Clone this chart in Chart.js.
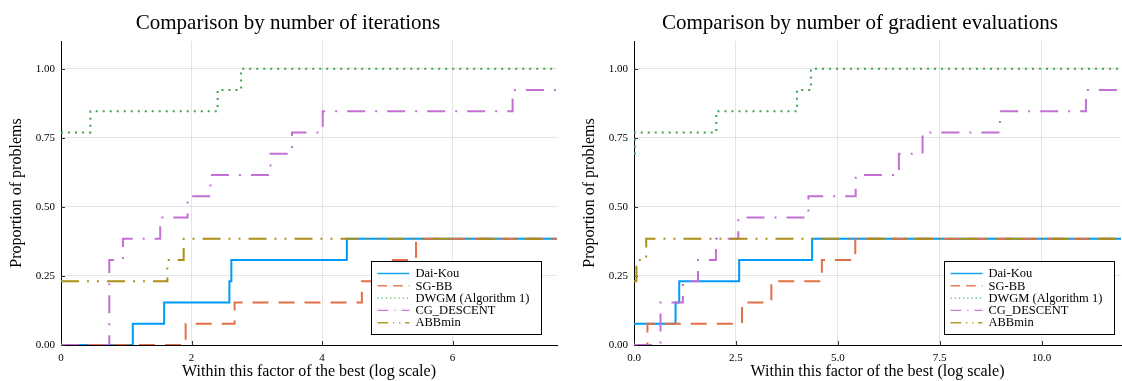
<!DOCTYPE html>
<html>
<head>
<meta charset="utf-8">
<script src="https://cdn.jsdelivr.net/npm/chart.js@4/dist/chart.umd.min.js"></script>
<style>
  body { margin: 0; background: #fff; }
  #wrap { position: relative; width: 1122px; height: 381px; }
  canvas { position: absolute; top: 0; }
</style>
</head>
<body>
<div id="wrap">
  <canvas id="iters" width="561" height="381" style="left:0"></canvas>
  <canvas id="grads" width="561" height="381" style="left:561px"></canvas>
</div>
<script>
// 13 test problems, so every step is 1/13
const NPROB = 13
const yTicks = [0, 0.25, 0.5, 0.75, 1.0]

// left panel: number of iterations
const iterXMax = 7.6
const iterXTicks = [0, 2, 4, 6]
const iterDaiKouX = [0, 1.10, 1.58, 2.58, 2.61, 4.38, 7.6]
const iterDaiKouN = [0, 1, 2, 3, 4, 5, 5]
const iterSgbbX = [0, 1.91, 2.66, 4.61, 4.94, 5.44, 7.6]
const iterSgbbN = [0, 1, 2, 3, 4, 5, 5]
const iterDwgmX = [0, 0.45, 2.40, 2.76, 7.6]
const iterDwgmN = [10, 11, 12, 13, 13]
const iterCgX = [0, 0.74, 0.95, 1.52, 1.94, 2.29, 3.21, 3.54, 4.01, 6.92, 7.6]
const iterCgN = [0, 4, 5, 6, 7, 8, 9, 10, 11, 12, 12]
const iterAbbX = [0, 1.63, 1.88, 7.6]
const iterAbbN = [3, 4, 5, 5]

// right panel: number of gradient evaluations
const gradXMax = 11.95
const gradXTicks = [0, 2.5, 5, 7.5, 10]
const gradDaiKouX = [0, 1.02, 1.11, 2.58, 4.37, 11.95]
const gradDaiKouN = [1, 2, 3, 4, 5, 5]
const gradSgbbX = [0, 0.33, 2.65, 3.37, 4.61, 5.43, 11.95]
const gradSgbbN = [0, 1, 2, 3, 4, 5, 5]
const gradDwgmX = [0, 0.02, 2.02, 4.00, 4.34, 11.95]
const gradDwgmN = [9, 10, 11, 12, 13, 13]
const gradCgX = [0, 0.65, 1.20, 1.57, 2.01, 2.56, 4.28, 5.44, 6.50, 7.08, 8.98, 11.09, 11.95]
const gradCgN = [0, 2, 3, 4, 5, 6, 7, 8, 9, 10, 11, 12, 12]
const gradAbbX = [0, 0.06, 0.30, 11.95]
const gradAbbN = [3, 4, 5, 5]

const solverNames = ['Dai-Kou', 'SG-BB', 'DWGM (Algorithm 1)', 'CG_DESCENT', 'ABBmin']

// look of each solver, same order as solverNames
const solverStyles = [
  { color: '#009AFA', dash: [] },
  { color: '#E26F46', dash: [16, 10] },
  { color: '#3EA44E', dash: [2, 5] },
  { color: '#C271D2', dash: [18, 10, 2, 10] },
  { color: '#AC8E18', dash: [18, 8, 2, 8, 2, 8] }
]

const SERIF = '"Liberation Serif", "DejaVu Serif", serif'

function points(xs, ns) {
  return xs.map((x, i) => ({ x: x, y: ns[i] / NPROB }))
}

// title drawn at a fixed centre, like the original layout
const titlePlugin = {
  id: 'panelTitle',
  afterDraw(chart, args, opts) {
    const ctx = chart.ctx
    ctx.save()
    ctx.font = '21px ' + SERIF
    ctx.fillStyle = '#000'
    ctx.textAlign = 'center'
    ctx.textBaseline = 'middle'
    ctx.fillText(opts.text, opts.cx, 23)
    ctx.restore()
  }
}

// small inward tick marks on both axes
const innerTicks = {
  id: 'innerTicks',
  beforeDatasetsDraw(chart) {
    const { ctx, chartArea, scales } = chart
    ctx.save()
    ctx.strokeStyle = '#333'
    ctx.lineWidth = 1
    ctx.beginPath()
    scales.x.ticks.forEach(t => {
      const px = Math.round(scales.x.getPixelForValue(t.value)) + 0.5
      ctx.moveTo(px, chartArea.bottom)
      ctx.lineTo(px, chartArea.bottom - 4)
    })
    scales.y.ticks.forEach(t => {
      const py = Math.round(scales.y.getPixelForValue(t.value)) + 0.5
      ctx.moveTo(chartArea.left, py)
      ctx.lineTo(chartArea.left + 4, py)
    })
    ctx.stroke()
    ctx.restore()
  }
}

// boxed legend with line samples, bottom right inside the plot
const boxLegend = {
  id: 'boxLegend',
  afterDraw(chart, args, opts) {
    const { ctx, chartArea } = chart
    const w = 170, h = 73
    const left = Math.round(chartArea.right - opts.marginRight - w) + 0.5
    const top = Math.round(chartArea.bottom - 11 - h) + 0.5
    ctx.save()
    ctx.fillStyle = '#fff'
    ctx.fillRect(left, top, w, h)
    ctx.strokeStyle = '#000'
    ctx.lineWidth = 1
    ctx.strokeRect(left, top, w, h)
    ctx.font = '12.5px ' + SERIF
    ctx.textBaseline = 'middle'
    ctx.fillStyle = '#000'
    solverNames.forEach((name, i) => {
      const y = top + 12 + i * 12.3
      const st = solverStyles[i]
      ctx.strokeStyle = st.color
      ctx.globalAlpha = 0.9
      ctx.lineWidth = 1.4
      ctx.setLineDash(st.dash.map(d => d * 0.6))
      ctx.beginPath()
      ctx.moveTo(left + 6, y)
      ctx.lineTo(left + 38, y)
      ctx.stroke()
      ctx.setLineDash([])
      ctx.globalAlpha = 1
      ctx.fillText(name, left + 44, y + 0.5)
    })
    ctx.restore()
  }
}

function makeChart(canvas, cfg) {
  const datasets = cfg.series.map((s, i) => ({
    label: solverNames[i],
    data: points(s[0], s[1]),
    borderColor: solverStyles[i].color,
    borderDash: solverStyles[i].dash,
    borderWidth: 2,
    stepped: 'before',
    pointRadius: 0,
    fill: false,
    order: cfg.series.length - i
  }))

  return new Chart(canvas, {
    type: 'line',
    data: { datasets: datasets },
    options: {
      responsive: false,
      animation: false,
      devicePixelRatio: 1,
      layout: { padding: { top: 41, right: cfg.padRight, bottom: 0, left: 0 } },
      plugins: {
        legend: { display: false },
        tooltip: { enabled: false },
        panelTitle: { text: cfg.title, cx: cfg.titleX },
        boxLegend: { marginRight: cfg.legendRight }
      },
      scales: {
        x: {
          type: 'linear',
          min: 0,
          max: cfg.xMax,
          afterBuildTicks: sc => { sc.ticks = cfg.xTicks.map(v => ({ value: v })) },
          afterFit: sc => { sc.height = 36 },
          grid: { color: 'rgba(0,0,0,0.1)', drawTicks: false },
          border: { color: '#000', width: 1 },
          ticks: {
            padding: 7,
            color: '#000',
            font: { family: SERIF, size: 11 },
            maxRotation: 0,
            callback: v => cfg.xFormat(v)
          },
          title: {
            display: true,
            text: 'Within this factor of the best (log scale)',
            color: '#000',
            font: { family: SERIF, size: 16, lineHeight: 1.1 },
            padding: { top: 0, bottom: 0 }
          }
        },
        y: {
          type: 'linear',
          min: 0,
          max: 1.1,
          afterBuildTicks: sc => { sc.ticks = yTicks.map(v => ({ value: v })) },
          afterFit: sc => { sc.width = cfg.yWidth },
          grid: { color: 'rgba(0,0,0,0.1)', drawTicks: false },
          border: { color: '#000', width: 1 },
          ticks: {
            padding: 6,
            color: '#000',
            font: { family: SERIF, size: 11 },
            callback: v => v.toFixed(2)
          },
          title: {
            display: true,
            text: 'Proportion of problems',
            color: '#000',
            font: { family: SERIF, size: 16, lineHeight: 1.2 },
            padding: { top: cfg.yTitlePad, bottom: 0 }
          }
        }
      }
    },
    plugins: [titlePlugin, innerTicks, boxLegend]
  })
}

makeChart(document.getElementById('iters'), {
  title: 'Comparison by number of iterations',
  titleX: 288,
  xMax: iterXMax,
  xTicks: iterXTicks,
  xFormat: v => String(v),
  yWidth: 61,
  yTitlePad: 7,
  padRight: 4,
  legendRight: 16,
  series: [
    [iterDaiKouX, iterDaiKouN],
    [iterSgbbX, iterSgbbN],
    [iterDwgmX, iterDwgmN],
    [iterCgX, iterCgN],
    [iterAbbX, iterAbbN]
  ]
})

makeChart(document.getElementById('grads'), {
  title: 'Comparison by number of gradient evaluations',
  titleX: 299,
  xMax: gradXMax,
  xTicks: gradXTicks,
  xFormat: v => v.toFixed(1),
  yWidth: 73,
  yTitlePad: 19,
  padRight: 1,
  legendRight: 7,
  series: [
    [gradDaiKouX, gradDaiKouN],
    [gradSgbbX, gradSgbbN],
    [gradDwgmX, gradDwgmN],
    [gradCgX, gradCgN],
    [gradAbbX, gradAbbN]
  ]
})
</script>
</body>
</html>
